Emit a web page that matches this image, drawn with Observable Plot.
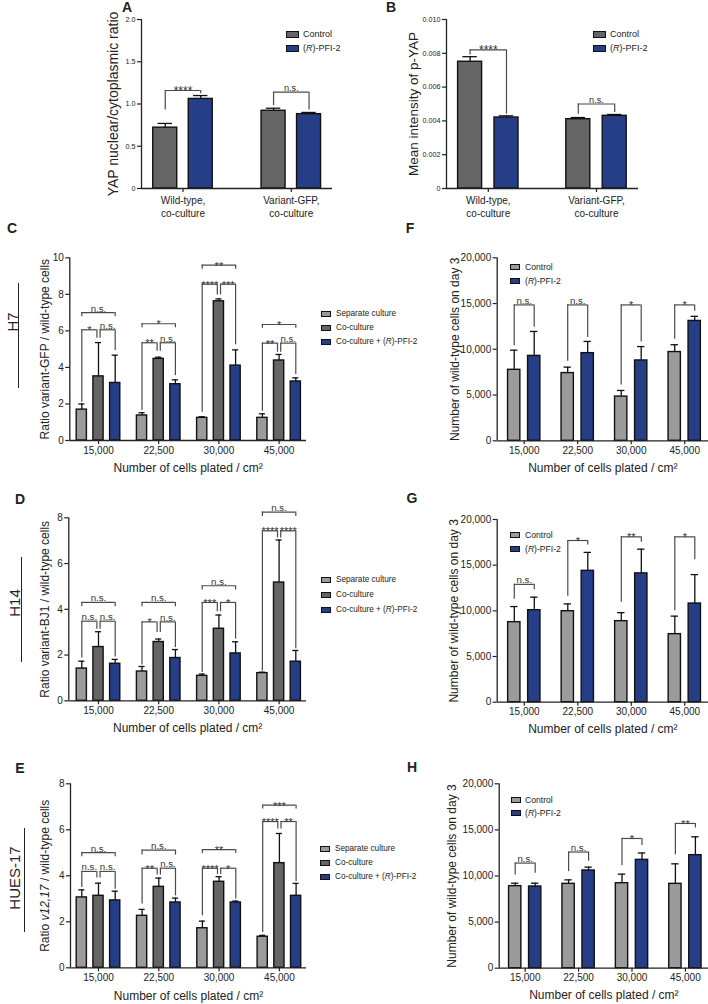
<!DOCTYPE html>
<html><head><meta charset="utf-8">
<script src="https://cdn.jsdelivr.net/npm/d3@7"></script>
<script src="https://cdn.jsdelivr.net/npm/@observablehq/plot@0.6"></script>
<style>
html,body{margin:0;padding:0;background:#fff;overflow:hidden}
#fig{position:relative;width:708px;height:1004px;font-family:"Liberation Sans",Arial,sans-serif;color:#222;overflow:hidden}
.letter{position:absolute;font-weight:bold;font-size:14px;transform:translate(-50%,-50%);line-height:1}
.side{position:absolute;font-size:15px;transform:translate(-50%,-50%) rotate(-90deg);white-space:nowrap;line-height:1}
.sideline{position:absolute;width:1px;background:#222}
.legtxt{position:absolute;white-space:nowrap;line-height:1;transform:translateY(-50%);color:#222}
</style></head>
<body><div id="fig"></div>
<script>
// ---------------- DATA ----------------
const coCultureGroups = ["Wild-type,\nco-culture", "Variant-GFP,\nco-culture"];
const densities = ["15,000", "22,500", "30,000", "45,000"];
const pairSeries = ["Control", "(R)-PFI-2"];
const tripleSeries = ["Separate culture", "Co-culture", "Co-culture + (R)-PFI-2"];

// A: YAP nuclear/cytoplasmic ratio
const A_control = [0.72, 0.92];
const A_controlErr = [0.05, 0.03];
const A_pfi2 = [1.06, 0.88];
const A_pfi2Err = [0.04, 0.02];
const A_brackets = [[0, 0, 1, 1.16, 0.93, 1.12, "****"], [1, 0, 1, 1.14, 0.98, 0.93, "n.s."]];
const A_yTicks = [0, 0.5, 1.0, 1.5, 2.0];
const A_yTickLabels = ["0", "0.5", "1.0", "1.5", "2.0"];

// B: mean intensity of p-YAP
const B_control = [0.0075, 0.0041];
const B_controlErr = [0.0003, 0.0001];
const B_pfi2 = [0.0042, 0.0043];
const B_pfi2Err = [0.0001, 0.00008];
const B_brackets = [[0, 0, 1, 0.0082, 0.0079, 0.0044, "****"], [1, 0, 1, 0.0050, 0.0044, 0.0045, "n.s."]];
const B_yTicks = [0, 0.002, 0.004, 0.006, 0.008, 0.010];
const B_yTickLabels = ["0", "0.002", "0.004", "0.006", "0.008", "0.010"];

// C: H7 ratio variant-GFP / wild-type
const C_separate = [1.69, 1.37, 1.24, 1.24];
const C_separateErr = [0.31, 0.15, 0.06, 0.22];
const C_coculture = [3.51, 4.47, 7.62, 4.38];
const C_cocultureErr = [1.85, 0.09, 0.13, 0.33];
const C_pfi2 = [3.15, 3.08, 4.10, 3.23];
const C_pfi2Err = [1.52, 0.24, 0.86, 0.20];
const C_brackets = [
  [0, 0, 2, 7.0, 6.78, 6.78, "n.s."], [0, 0, 1, 6.06, 2.1, 5.6, "*"], [0, 1, 2, 6.06, 5.6, 4.93, "n.s."],
  [1, 0, 2, 6.39, 6.17, 6.17, "*"], [1, 0, 1, 5.35, 1.64, 4.89, "**"], [1, 1, 2, 5.35, 4.89, 3.56, "n.s."],
  [2, 0, 2, 9.6, 9.38, 9.38, "**"], [2, 0, 1, 8.56, 1.55, 7.97, "****"], [2, 1, 2, 8.56, 7.97, 5.24, "***"],
  [3, 0, 2, 6.35, 6.15, 6.15, "*"], [3, 0, 1, 5.33, 1.6, 4.83, "**"], [3, 1, 2, 5.33, 4.83, 3.61, "n.s."]
];
const C_yTicks = [0, 2, 4, 6, 8, 10];
const C_yTickLabels = ["0", "2", "4", "6", "8", "10"];

// D: H14 ratio variant-BJ1 / wild-type
const D_separate = [1.41, 1.28, 1.09, 1.21];
const D_separateErr = [0.32, 0.22, 0.08, 0.04];
const D_coculture = [2.35, 2.57, 3.15, 5.17];
const D_cocultureErr = [0.67, 0.13, 0.60, 1.86];
const D_pfi2 = [1.62, 1.87, 2.07, 1.71];
const D_pfi2Err = [0.19, 0.37, 0.51, 0.49];
const D_brackets = [
  [0, 0, 2, 4.3, 4.11, 4.11, "n.s."], [0, 0, 1, 3.48, 1.87, 3.13, "n.s."], [0, 1, 2, 3.48, 3.13, 1.92, "n.s."],
  [1, 0, 2, 4.3, 4.11, 4.11, "n.s."], [1, 0, 1, 3.45, 1.56, 2.99, "*"], [1, 1, 2, 3.45, 2.99, 2.33, "n.s."],
  [2, 0, 2, 5.03, 4.84, 4.84, "n.s."], [2, 0, 1, 4.3, 1.24, 3.89, "***"], [2, 1, 2, 4.3, 3.89, 2.7, "*"],
  [3, 0, 2, 8.25, 8.06, 8.06, "n.s."], [3, 0, 1, 7.43, 1.3, 7.12, "****"], [3, 1, 2, 7.43, 7.12, 2.28, "****"]
];
const D_yTicks = [0, 2, 4, 6, 8];
const D_yTickLabels = ["0", "2", "4", "6", "8"];

// E: HUES-17 ratio v12,17 / wild-type
const E_separate = [3.06, 2.26, 1.72, 1.35];
const E_separateErr = [0.33, 0.28, 0.31, 0.06];
const E_coculture = [3.13, 3.52, 3.74, 4.55];
const E_cocultureErr = [0.55, 0.38, 0.22, 1.29];
const E_pfi2 = [2.93, 2.84, 2.84, 3.13];
const E_pfi2Err = [0.40, 0.19, 0.06, 0.54];
const E_brackets = [
  [0, 0, 2, 5.01, 4.83, 4.83, "n.s."], [0, 0, 1, 4.19, 3.49, 3.9, "n.s."], [0, 1, 2, 4.19, 3.9, 3.42, "n.s."],
  [1, 0, 2, 5.12, 4.9, 4.9, "n.s."], [1, 0, 1, 4.33, 2.77, 4.04, "**"], [1, 1, 2, 4.33, 4.04, 3.13, "n.s."],
  [2, 0, 2, 5.14, 4.97, 4.97, "**"], [2, 0, 1, 4.33, 2.26, 4.06, "****"], [2, 1, 2, 4.33, 4.06, 2.99, "*"],
  [3, 0, 2, 7.07, 6.9, 6.9, "***"], [3, 0, 1, 6.36, 1.54, 6.03, "****"], [3, 1, 2, 6.36, 6.03, 3.74, "**"]
];
const E_yTicks = [0, 2, 4, 6, 8];
const E_yTickLabels = ["0", "2", "4", "6", "8"];

// F, G, H: wild-type cells on day 3
const F_control = [7760, 7400, 4830, 9700];
const F_controlErr = [2140, 650, 670, 800];
const F_pfi2 = [9280, 9580, 8780, 13100];
const F_pfi2Err = [2670, 1280, 1520, 500];
const F_brackets = [[0, 0, 1, 14850, 10400, 12400, "n.s."], [1, 0, 1, 14850, 8700, 11300, "n.s."], [2, 0, 1, 14850, 6100, 10800, "*"], [3, 0, 1, 14850, 11100, 14150, "*"]];

const G_control = [8760, 9960, 8870, 7450];
const G_controlErr = [1710, 800, 930, 1970];
const G_pfi2 = [10070, 14380, 14100, 10800];
const G_pfi2Err = [1430, 2020, 2650, 3170];
const G_brackets = [[0, 0, 1, 12900, 11260, 12300, "n.s."], [1, 0, 1, 17700, 11600, 17200, "*"], [2, 0, 1, 18100, 10950, 17500, "**"], [3, 0, 1, 18100, 10000, 15600, "*"]];

const H_control = [8900, 9150, 9220, 9150];
const H_controlErr = [320, 430, 980, 2170];
const H_pfi2 = [8860, 10600, 11750, 12260];
const H_pfi2Err = [360, 360, 750, 1990];
const H_brackets = [[0, 0, 1, 11400, 10100, 10300, "n.s."], [1, 0, 1, 12600, 10500, 11600, "n.s."], [2, 0, 1, 14070, 11100, 13300, "*"], [3, 0, 1, 15700, 12300, 15200, "**"]];

const cells_yTicks = [0, 5000, 10000, 15000, 20000];
const cells_yTickLabels = ["0", "5,000", "10,000", "15,000", "20,000"];

const xTitle = "Number of cells plated / cm²";
const cellsTitle = "Number of wild-type cells on day 3";

// ---------------- STYLE ----------------
const lightGray = "#9b9b9b", darkGray = "#656565", navy = "#263e87";
const FONT = '"Liberation Sans", Arial, sans-serif';
const fig = document.getElementById("fig");

function renderPanel(cfg) {
  const {box, axisX, axisEnd, yTopPx, yZeroPx, c0, step, spacing, barW,
    groups, series, colors, means, errs, brackets, yMax, yTicks, yTickLabels,
    yLabel, yLabelX, xLabel, xLabelY, tickFont, xTickFont, titleFont, sigFont, starFont, xLineHeight} = cfg;
  const [left, top, width, height] = box;
  const nS = series.length;
  const rows = [];
  groups.forEach((g, gi) => series.forEach((s, si) =>
    rows.push({g, gi, s, si, mean: means[si][gi], err: errs[si][gi]})));
  const off = si => (si - (nS - 1) / 2) * spacing / step;
  const cx = d => d.gi + off(d.si);
  const hw = barW / step / 2;
  const capHw = hw * 0.6;
  const delta = 1.6 / step;
  const x0 = (axisX - c0) / step, x1 = (axisEnd - c0) / step;
  const br = brackets.map(([gi, a, b, y, la, lb, label]) => ({
    xa: gi + off(a) + (nS === 3 && a === 1 ? delta : 0),
    xb: gi + off(b) - (nS === 3 && b === 1 ? delta : 0),
    y, la, lb, label, stars: label !== "n.s."
  }));
  const axisCol = "#222", brCol = "#4a4a4a";
  const marks = [
    Plot.rectY(rows, {x1: d => cx(d) - hw, x2: d => cx(d) + hw, y1: 0, y2: "mean", fill: "s", stroke: "#111", strokeWidth: 1.4}),
    Plot.ruleX(rows, {x: cx, y1: "mean", y2: d => d.mean + d.err, stroke: "#111", strokeWidth: 1.3}),
    Plot.ruleY(rows, {x1: d => cx(d) - capHw, x2: d => cx(d) + capHw, y: d => d.mean + d.err, stroke: "#111", strokeWidth: 1.3}),
    Plot.ruleY(br, {x1: "xa", x2: "xb", y: "y", stroke: brCol, strokeWidth: 1.2}),
    Plot.ruleX(br, {x: "xa", y1: "y", y2: "la", stroke: brCol, strokeWidth: 1.2}),
    Plot.ruleX(br, {x: "xb", y1: "y", y2: "lb", stroke: brCol, strokeWidth: 1.2}),
    Plot.text(br.filter(d => !d.stars), {x: d => (d.xa + d.xb) / 2, y: "y", text: "label", lineAnchor: "bottom", dy: -1, fontSize: sigFont, fill: "#333"}),
    Plot.text(br.filter(d => d.stars), {x: d => (d.xa + d.xb) / 2, y: "y", text: "label", lineAnchor: "bottom", dy: 4.5, fontSize: starFont, fill: "#333"}),
    Plot.ruleX([x0], {stroke: axisCol, strokeWidth: 1.3}),
    Plot.ruleY([0], {stroke: axisCol, strokeWidth: 1.3}),
    Plot.axisY({ticks: yTicks, tickFormat: d => yTickLabels[yTicks.indexOf(d)], tickSize: 4, tickPadding: 2, fontSize: tickFont, label: null, stroke: axisCol, strokeWidth: 1.2}),
    Plot.axisX({ticks: groups.map((g, i) => i), tickFormat: i => groups[i], tickSize: 4, tickPadding: 2, fontSize: xTickFont, lineHeight: xLineHeight || 1, label: null, stroke: axisCol, strokeWidth: 1.2}),
    Plot.text([yLabel], {frameAnchor: "left", rotate: -90, dx: yLabelX - axisX, textAnchor: "middle", lineAnchor: "middle", fontSize: titleFont, fill: "#222"})
  ];
  if (xLabel) marks.push(Plot.text([xLabel], {frameAnchor: "bottom", dy: xLabelY - yZeroPx, textAnchor: "middle", lineAnchor: "middle", fontSize: titleFont, fill: "#222"}));
  const svg = Plot.plot({
    width, height,
    marginLeft: axisX - left, marginRight: left + width - axisEnd,
    marginTop: yTopPx - top, marginBottom: top + height - yZeroPx,
    x: {domain: [x0, x1]},
    y: {domain: [0, yMax]},
    color: {domain: series, range: colors},
    style: {fontFamily: FONT, fontSize: "9px", color: "#222", background: "transparent", overflow: "visible"},
    marks
  });
  svg.style.position = "absolute";
  svg.style.left = left + "px";
  svg.style.top = top + "px";
  fig.appendChild(svg);
  return svg;
}

function legend(items, colors, {x, rows, w, h, tx, font}) {
  items.forEach((label, i) => {
    const sw = document.createElement("div");
    sw.style.cssText = `position:absolute;left:${x}px;top:${rows[i] - h / 2}px;width:${w}px;height:${h}px;background:${colors[i]};border:1.2px solid #111;box-sizing:border-box`;
    fig.appendChild(sw);
    const t = document.createElement("div");
    t.className = "legtxt";
    t.style.left = tx + "px"; t.style.top = rows[i] + "px"; t.style.fontSize = font + "px";
    t.innerHTML = label.replace("(R)", "(<i>R</i>)");
    fig.appendChild(t);
  });
}
function letter(txt, x, y) {
  const d = document.createElement("div"); d.className = "letter"; d.textContent = txt;
  d.style.left = x + "px"; d.style.top = y + "px"; fig.appendChild(d);
}
function side(txt, x, y, lineX, y1, y2) {
  const d = document.createElement("div"); d.className = "side"; d.textContent = txt;
  d.style.left = x + "px"; d.style.top = y + "px"; fig.appendChild(d);
  const l = document.createElement("div"); l.className = "sideline";
  l.style.left = lineX + "px"; l.style.top = y1 + "px"; l.style.height = (y2 - y1) + "px"; fig.appendChild(l);
}

// ---------------- PANELS ----------------
const pairColorsAB = [darkGray, navy];
const pairColorsFGH = [lightGray, navy];
const tripleColors = [lightGray, darkGray, navy];
const small = {tickFont: 10, xTickFont: 10, titleFont: 12, sigFont: 9.7, starFont: 11};

renderPanel({box: [100, 0, 240, 222], axisX: 141, axisEnd: 332, yTopPx: 19, yZeroPx: 188, c0: 182.5, step: 108.3, spacing: 35.5, barW: 24,
  groups: coCultureGroups, series: pairSeries, colors: pairColorsAB, means: [A_control, A_pfi2], errs: [A_controlErr, A_pfi2Err],
  brackets: A_brackets, yMax: 2.0, yTicks: A_yTicks, yTickLabels: A_yTickLabels,
  yLabel: "YAP nuclear/cytoplasmic ratio", yLabelX: 113, tickFont: 7.2, xTickFont: 10, titleFont: 14, sigFont: 9.2, starFont: 12, xLineHeight: 1.3});
renderPanel({box: [360, 0, 290, 222], axisX: 446, axisEnd: 638, yTopPx: 19, yZeroPx: 188, c0: 487.8, step: 108.2, spacing: 36.4, barW: 24,
  groups: coCultureGroups, series: pairSeries, colors: pairColorsAB, means: [B_control, B_pfi2], errs: [B_controlErr, B_pfi2Err],
  brackets: B_brackets, yMax: 0.010, yTicks: B_yTicks, yTickLabels: B_yTickLabels,
  yLabel: "Mean intensity of p-YAP", yLabelX: 413, tickFont: 7.2, xTickFont: 10, titleFont: 13.5, sigFont: 9.2, starFont: 12, xLineHeight: 1.3});

renderPanel({box: [0, 240, 330, 240], axisX: 69.3, axisEnd: 306, yTopPx: 257.3, yZeroPx: 440, c0: 98, step: 60.2, spacing: 16.7, barW: 10.2,
  groups: densities, series: tripleSeries, colors: tripleColors, means: [C_separate, C_coculture, C_pfi2], errs: [C_separateErr, C_cocultureErr, C_pfi2Err],
  brackets: C_brackets, yMax: 10, yTicks: C_yTicks, yTickLabels: C_yTickLabels,
  yLabel: "Ratio variant-GFP / wild-type cells", yLabelX: 45, xLabel: xTitle, xLabelY: 467.7, ...small});
renderPanel({box: [0, 500, 330, 240], axisX: 68.3, axisEnd: 306, yTopPx: 517.3, yZeroPx: 700.3, c0: 98, step: 60.2, spacing: 16.7, barW: 10.2,
  groups: densities, series: tripleSeries, colors: tripleColors, means: [D_separate, D_coculture, D_pfi2], errs: [D_separateErr, D_cocultureErr, D_pfi2Err],
  brackets: D_brackets, yMax: 8, yTicks: D_yTicks, yTickLabels: D_yTickLabels,
  yLabel: "Ratio variant-BJ1 / wild-type cells", yLabelX: 45, xLabel: xTitle, xLabelY: 727.7, ...small});
const svgE = renderPanel({box: [0, 770, 330, 234], axisX: 70, axisEnd: 306, yTopPx: 783.3, yZeroPx: 967.3, c0: 98, step: 60.3, spacing: 16.7, barW: 10.2,
  groups: densities, series: tripleSeries, colors: tripleColors, means: [E_separate, E_coculture, E_pfi2], errs: [E_separateErr, E_cocultureErr, E_pfi2Err],
  brackets: E_brackets, yMax: 8, yTicks: E_yTicks, yTickLabels: E_yTickLabels,
  yLabel: "Ratio v12,17 / wild-type cells", yLabelX: 45, xLabel: xTitle, xLabelY: 996, ...small});
svgE.querySelectorAll("text").forEach(t => {
  if (t.textContent === "Ratio v12,17 / wild-type cells") t.innerHTML = 'Ratio <tspan font-style="italic">v12,17</tspan> / wild-type cells';
});

renderPanel({box: [400, 240, 308, 240], axisX: 496.7, axisEnd: 708, yTopPx: 257.3, yZeroPx: 440.3, c0: 523.7, step: 53.5, spacing: 20, barW: 12.3,
  groups: densities, series: pairSeries, colors: pairColorsFGH, means: [F_control, F_pfi2], errs: [F_controlErr, F_pfi2Err],
  brackets: F_brackets, yMax: 20000, yTicks: cells_yTicks, yTickLabels: cells_yTickLabels,
  yLabel: cellsTitle, yLabelX: 455, xLabel: xTitle, xLabelY: 467.7, ...small});
renderPanel({box: [400, 500, 308, 240], axisX: 496.7, axisEnd: 708, yTopPx: 519, yZeroPx: 701.7, c0: 523.8, step: 53.5, spacing: 20, barW: 12.3,
  groups: densities, series: pairSeries, colors: pairColorsFGH, means: [G_control, G_pfi2], errs: [G_controlErr, G_pfi2Err],
  brackets: G_brackets, yMax: 20000, yTicks: cells_yTicks, yTickLabels: cells_yTickLabels,
  yLabel: cellsTitle, yLabelX: 454, xLabel: xTitle, xLabelY: 728.3, ...small});
renderPanel({box: [400, 770, 308, 234], axisX: 498.7, axisEnd: 708, yTopPx: 783.3, yZeroPx: 967.7, c0: 524.7, step: 53.4, spacing: 20, barW: 12.3,
  groups: densities, series: pairSeries, colors: pairColorsFGH, means: [H_control, H_pfi2], errs: [H_controlErr, H_pfi2Err],
  brackets: H_brackets, yMax: 20000, yTicks: cells_yTicks, yTickLabels: cells_yTickLabels,
  yLabel: cellsTitle, yLabelX: 452, xLabel: xTitle, xLabelY: 995, ...small});

// ---------------- LEGENDS ----------------
legend(pairSeries, pairColorsAB, {x: 286, rows: [34, 48], w: 13, h: 7, tx: 303, font: 9});
legend(pairSeries, pairColorsAB, {x: 593, rows: [34, 48], w: 13, h: 7, tx: 610, font: 9});
legend(tripleSeries, tripleColors, {x: 321, rows: [314, 328, 342], w: 10, h: 6, tx: 336, font: 8.2});
legend(tripleSeries, tripleColors, {x: 321, rows: [580, 595, 609.5], w: 10, h: 6, tx: 336, font: 8.2});
legend(tripleSeries, tripleColors, {x: 320, rows: [849, 863, 877], w: 10, h: 6, tx: 335, font: 8.2});
legend(pairSeries, pairColorsFGH, {x: 510, rows: [267, 280.5], w: 10, h: 6, tx: 525, font: 8.6});
legend(pairSeries, pairColorsFGH, {x: 510, rows: [535, 549], w: 10, h: 6, tx: 525, font: 8.6});
legend(pairSeries, pairColorsFGH, {x: 511, rows: [800, 813], w: 10, h: 6, tx: 525, font: 8.6});

// ---------------- LETTERS & SIDE LABELS ----------------
letter("A", 127, 7); letter("B", 391, 7);
letter("C", 12, 228); letter("F", 410, 228);
letter("D", 20, 499); letter("G", 412, 498);
letter("E", 20, 768); letter("H", 412, 767);
side("H7", 12, 322, 18, 283, 388);
side("H14", 14, 603, 21, 557, 662);
side("HUES-17", 14, 878, 24, 828, 932);
</script></body></html>
